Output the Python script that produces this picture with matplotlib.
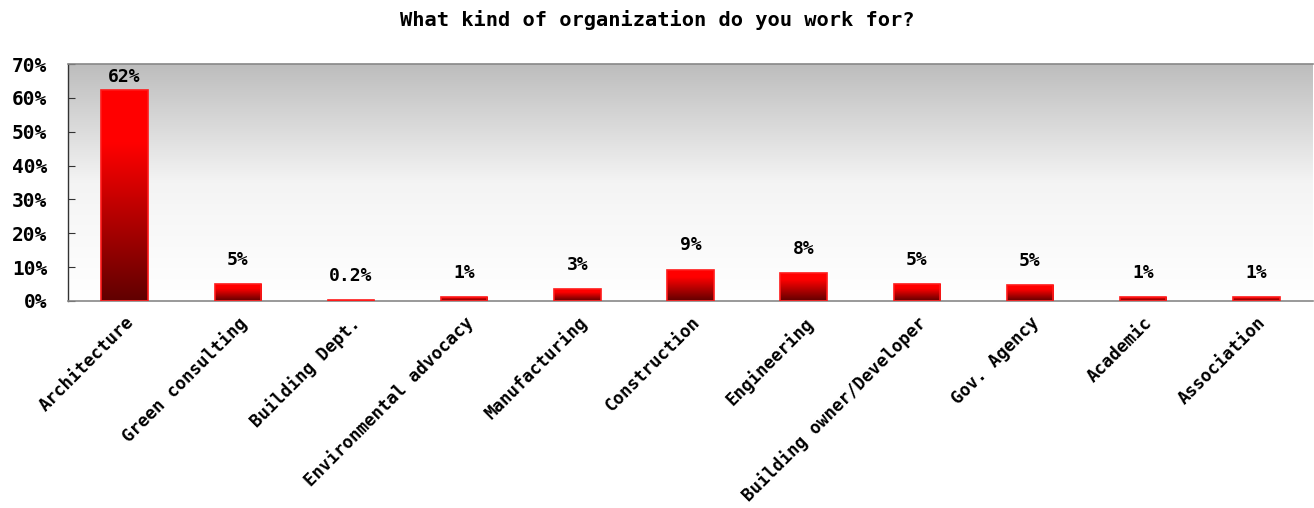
import matplotlib
matplotlib.use("Agg")
import matplotlib.pyplot as plt
import numpy as np
from matplotlib.colors import LinearSegmentedColormap
from matplotlib.patches import Rectangle

categories = ["Architecture", "Green consulting", "Building Dept.", "Environmental advocacy",
              "Manufacturing", "Construction", "Engineering", "Building owner/Developer",
              "Gov. Agency", "Academic", "Association"]
values = [62.3, 5.0, 0.2, 1.2, 3.4, 9.3, 8.3, 5.0, 4.6, 1.2, 1.2]
y_ticks = [0, 10, 20, 30, 40, 50, 60, 70]
title = "What kind of organization do you work for?"

plt.rcParams["font.family"] = ["DejaVu Sans Mono"]
FONT = dict(fontweight="bold")

fig = plt.figure(figsize=(13.14, 5.08), dpi=100)
ax = fig.add_axes([68 / 1314, 1 - 301 / 508, (1313 - 68) / 1314, (301 - 64) / 508])

ax.set_xlim(-0.5, len(categories) - 0.5)
ax.set_ylim(0, 70)

# background: grey at the top fading to white at the bottom
bg_cmap = LinearSegmentedColormap.from_list("bg", ["#ffffff", "#f4f4f4", "#bdbdbd"])
grad = np.linspace(0, 1, 256).reshape(-1, 1)
ax.imshow(grad, cmap=bg_cmap, aspect="auto", origin="lower",
          extent=[-0.5, len(categories) - 0.5, 0, 70], zorder=0)

# bars with a dark-to-bright red vertical gradient
bar_cmap = LinearSegmentedColormap.from_list("bar", [(0, "#600000"), (0.75, "#ff0000"), (1, "#ff0000")])
width = 0.41
bars = ax.bar(range(len(values)), values, width=width, color="none",
              edgecolor="#ff1a1a", linewidth=1.2, zorder=3)
for b in bars:
    x0, w, h = b.get_x(), b.get_width(), b.get_height()
    im = ax.imshow(grad, cmap=bar_cmap, aspect="auto", origin="lower",
                   extent=[x0, x0 + w, 0, h], zorder=2)
    im.set_clip_path(Rectangle((x0, 0), w, h, transform=ax.transData))

for i, v in enumerate(values):
    lab = f"{v:.1f}%" if v < 0.5 else f"{round(v):d}%"
    ax.annotate(lab, (i, v), xytext=(0, 3 if v > 50 else 11), textcoords="offset points",
                ha="center", va="bottom", fontsize=13, **FONT)

ax.set_yticks(y_ticks)
ax.set_yticklabels([f"{t}%" for t in y_ticks], fontsize=14, **FONT)
ax.set_xticks(range(len(categories)))
ax.set_xticklabels(categories, rotation=45, ha="right", va="top", rotation_mode="anchor",
                   fontsize=12.5, **FONT)
ax.tick_params(axis="x", length=0, pad=9)
ax.tick_params(axis="y", direction="in", length=5, color="#333333", pad=15)

ax.spines["left"].set_color("#333333")
ax.spines["left"].set_linewidth(1.0)
for s in ["top", "bottom"]:
    ax.spines[s].set_color("#888888")
    ax.spines[s].set_linewidth(1.2)
ax.spines["right"].set_visible(False)

fig.text(0.5, 1 - 20 / 508, title, ha="center", va="center", fontsize=14.7, **FONT)

fig.savefig("out.png", dpi=100)
